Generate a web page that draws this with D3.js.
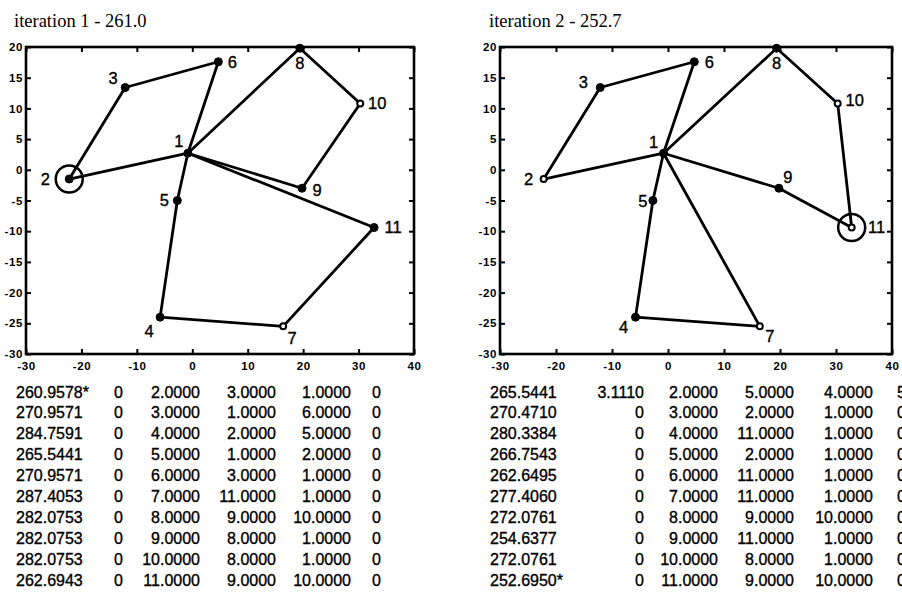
<!DOCTYPE html>
<html>
<head>
<meta charset="utf-8">
<script src="https://cdn.jsdelivr.net/npm/d3@7"></script>
<style>
  html, body { margin: 0; padding: 0; background: #fff; overflow: hidden; }
  svg { display: block; }
  .tick text { font-family: "Liberation Sans", Arial, sans-serif; font-weight: bold; font-size: 11.5px; letter-spacing: 0.6px; fill: #000; }
  .title { font-family: "Liberation Serif", "Times New Roman", serif; font-size: 18.5px; fill: #000; }
  .nlabel { font-family: "Liberation Sans", Arial, sans-serif; font-size: 16.5px; fill: #000; stroke: #000; stroke-width: 0.35px; }
  .tbl { font-family: "Liberation Sans", Arial, sans-serif; font-size: 16px; fill: #000; stroke: #000; stroke-width: 0.35px; }
</style>
</head>
<body>
<svg id="chart" width="902" height="596"></svg>
<script>
// ---- data ----
const titles = ["iteration 1 - 261.0", "iteration 2 - 252.7"];
const xTicks = [-30, -20, -10, 0, 10, 20, 30, 40];
const yTicks = [-30, -25, -20, -15, -10, -5, 0, 5, 10, 15, 20];

// node coordinates (node id = index + 1)
const nodeIds = [1, 2, 3, 4, 5, 6, 7, 8, 9, 10, 11];
const nodeX = [-0.8, -22.2, -12.1, -5.8, -2.7, 4.7, 16.4, 19.4, 19.8, 30.3, 32.8];
const nodeY = [2.7, -1.5, 13.4, -24.0, -5.0, 17.6, -25.5, 19.8, -3.0, 10.8, -9.4];

// links of each iteration
const edges1 = [[2, 3], [3, 6], [6, 1], [1, 5], [1, 2], [1, 8], [8, 10], [10, 9], [1, 9], [1, 11], [11, 7], [7, 4], [4, 5]];
const edges2 = [[2, 3], [3, 6], [6, 1], [1, 5], [5, 4], [4, 7], [7, 1], [1, 2], [1, 8], [8, 10], [10, 11], [1, 9], [9, 11]];
const openNodes1 = [10, 7];
const openNodes2 = [2, 10, 7, 11];
const currentNode1 = 2;
const currentNode2 = 11;

// result tables
const cost1 = [260.9578, 270.9571, 284.7591, 265.5441, 270.9571, 287.4053, 282.0753, 282.0753, 282.0753, 262.6943];
const colB1 = [0, 0, 0, 0, 0, 0, 0, 0, 0, 0];
const colC1 = [2, 3, 4, 5, 6, 7, 8, 9, 10, 11];
const colD1 = [3, 1, 2, 1, 3, 11, 9, 8, 8, 9];
const colE1 = [1, 6, 5, 2, 1, 1, 10, 1, 1, 10];
const colF1 = [0, 0, 0, 0, 0, 0, 0, 0, 0, 0];
const best1 = 0;

const cost2 = [265.5441, 270.4710, 280.3384, 266.7543, 262.6495, 277.4060, 272.0761, 254.6377, 272.0761, 252.6950];
const colB2 = [3.1110, 0, 0, 0, 0, 0, 0, 0, 0, 0];
const colC2 = [2, 3, 4, 5, 6, 7, 8, 9, 10, 11];
const colD2 = [5, 2, 11, 2, 11, 11, 9, 11, 8, 9];
const colE2 = [4, 1, 1, 1, 1, 1, 10, 1, 1, 10];
const colF2 = [5, 0, 0, 0, 0, 0, 0, 0, 0, 0];
const best2 = 9;

// ---- layout ----
const panels = [
  {
    title: titles[0], titleX: 14,
    x0: 26, x1: 414,
    edges: edges1, open: openNodes1, current: currentNode1,
    labelOff: {1: [-9, -12], 2: [-24, 0], 3: [-12, -9], 4: [-11, 14], 5: [-13, 0], 6: [14, 0],
               7: [9, 12], 8: [0, 15], 9: [15, 2], 10: [17, 0], 11: [19, 0]},
    table: {cols: [cost1, colB1, colC1, colD1, colE1, colF1], best: best1,
            xs: [16, 123, 200, 276, 351, 381], anchors: ["start", "end", "end", "end", "end", "end"]}
  },
  {
    title: titles[1], titleX: 489,
    x0: 500, x1: 892,
    edges: edges2, open: openNodes2, current: currentNode2,
    labelOff: {1: [-10, -11], 2: [-15, 0], 3: [-17, -5], 4: [-12, 10], 5: [-10, 1], 6: [15, 0],
               7: [10, 10], 8: [0, 15], 9: [9, -11], 10: [17, -3], 11: [25, 0]},
    table: {cols: [cost2, colB2, colC2, colD2, colE2, colF2], best: best2,
            xs: [490, 644, 718, 794, 873, 897], anchors: ["start", "end", "end", "end", "end", "start"]}
  }
];

const yTop = 47, yBot = 354;
const svg = d3.select("#chart");
const fmtTick = d => String(d);
const fmtNum = v => v === 0 ? "0" : v.toFixed(4);

panels.forEach(p => {
  const x = d3.scaleLinear().domain([-30, 40]).range([p.x0, p.x1]);
  const y = d3.scaleLinear().domain([-30, 20]).range([yBot, yTop]);
  const g = svg.append("g");

  g.append("text").attr("class", "title").attr("x", p.titleX).attr("y", 27).text(p.title);

  // axes with inward ticks on all four sides
  const styleAxis = sel => {
    sel.select(".domain").remove();
    sel.selectAll(".tick line").attr("stroke", "#000").attr("stroke-width", 2);
  };
  g.append("g").attr("transform", `translate(0,${yBot})`)
    .call(d3.axisBottom(x).tickValues(xTicks).tickFormat(fmtTick).tickSizeInner(-5).tickSizeOuter(0).tickPadding(8))
    .call(styleAxis);
  g.append("g").attr("transform", `translate(0,${yTop})`)
    .call(d3.axisTop(x).tickValues(xTicks).tickFormat("").tickSizeInner(-5).tickSizeOuter(0))
    .call(styleAxis);
  g.append("g").attr("transform", `translate(${p.x0},0)`)
    .call(d3.axisLeft(y).tickValues(yTicks).tickFormat(fmtTick).tickSizeInner(-5).tickSizeOuter(0).tickPadding(3))
    .call(styleAxis);
  g.append("g").attr("transform", `translate(${p.x1},0)`)
    .call(d3.axisRight(y).tickValues(yTicks).tickFormat("").tickSizeInner(-5).tickSizeOuter(0))
    .call(styleAxis);

  g.append("rect")
    .attr("x", p.x0).attr("y", yTop)
    .attr("width", p.x1 - p.x0).attr("height", yBot - yTop)
    .attr("fill", "none").attr("stroke", "#000").attr("stroke-width", 2.6);

  const px = id => x(nodeX[id - 1]);
  const py = id => y(nodeY[id - 1]);

  // links
  g.append("g").selectAll("line").data(p.edges).join("line")
    .attr("x1", d => px(d[0])).attr("y1", d => py(d[0]))
    .attr("x2", d => px(d[1])).attr("y2", d => py(d[1]))
    .attr("stroke", "#000").attr("stroke-width", 2.8).attr("stroke-linecap", "round");

  // current node ring
  g.append("circle")
    .attr("cx", px(p.current)).attr("cy", py(p.current)).attr("r", 13.5)
    .attr("fill", "none").attr("stroke", "#000").attr("stroke-width", 2.5);

  // node markers
  g.append("g").selectAll("circle").data(nodeIds).join("circle")
    .attr("cx", px).attr("cy", py)
    .attr("r", d => p.open.includes(d) ? 3 : 4)
    .attr("fill", d => p.open.includes(d) ? "#fff" : "#000")
    .attr("stroke", "#000").attr("stroke-width", d => p.open.includes(d) ? 2 : 1);

  // node labels
  g.append("g").selectAll("text").data(nodeIds).join("text")
    .attr("class", "nlabel")
    .attr("x", d => px(d) + p.labelOff[d][0])
    .attr("y", d => py(d) + p.labelOff[d][1])
    .attr("dy", "0.36em").attr("text-anchor", "middle")
    .text(d => d);

  // table beneath the plot
  const rowY = d3.scaleLinear().domain([0, 9]).range([397.5, 586]);
  const t = p.table;
  const rows = d3.range(t.cols[0].length);
  t.cols.forEach((col, ci) => {
    g.append("g").selectAll("text").data(rows).join("text")
      .attr("class", "tbl")
      .attr("x", t.xs[ci]).attr("y", i => rowY(i))
      .attr("text-anchor", t.anchors[ci])
      .text(i => ci === 0 ? col[i].toFixed(4) + (i === t.best ? "*" : "") : fmtNum(col[i]));
  });
});
</script>
</body>
</html>
